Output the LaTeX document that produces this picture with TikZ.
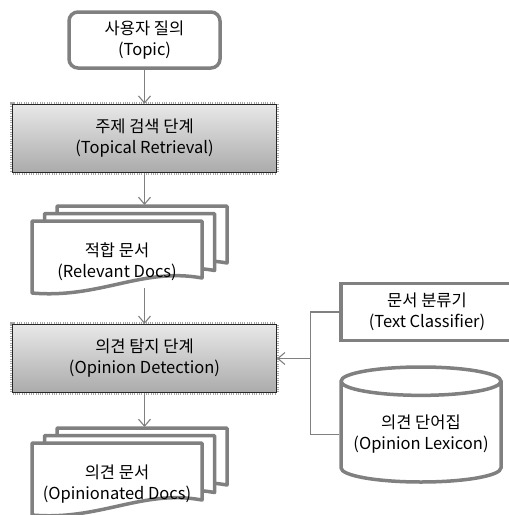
\documentclass[tikz,border=0pt]{standalone}
\usepackage{fontspec}
\setmainfont{Noto Sans CJK KR}
\usepackage{tikz}
\usetikzlibrary{positioning,shapes.geometric,calc,arrows.meta}

\definecolor{edgegray}{RGB}{128,128,128}

\tikzset{
  base/.style={align=center, font=\fontsize{16.5}{21}\selectfont},
  query/.style={base, draw=edgegray, line width=3.5pt, rounded corners=9pt,
    fill=white, minimum width=151pt, minimum height=56pt},
  stage/.style={base, draw=black!85, line width=1.2pt, top color=black!9,
    bottom color=black!33, minimum width=264pt, minimum height=68pt,
    preaction={draw=black!35, line width=4.5pt, dash pattern=on 0.7pt off 1.6pt}},
  resource/.style={base, draw=edgegray, line width=3.5pt, fill=white,
    minimum width=172pt, minimum height=57pt},
  store/.style={base, cylinder, shape border rotate=90, aspect=0.2,
    draw=edgegray, line width=3.5pt, fill=white,
    minimum width=160pt, minimum height=115pt},
  page/.style={draw=edgegray, line width=3.5pt, fill=white, line join=round},
  link/.style={draw=edgegray, line width=1.1pt},
}

% three stacked pages behind a text node
\newcommand{\docstack}[1]{%
  \foreach \k in {2,1,0}
    \draw[page, shift={($(#1)+(-85+12.5*\k,-41-7.5*\k)$)}]
      (0,0) -- (170,0) -- (170,57) .. controls (110,46) and (68,78) .. (0,72) -- cycle;
}

\begin{document}
\begin{tikzpicture}[x=1pt, y=-1pt, >={Straight Barb[length=7pt,width=12pt]}]
    \useasboundingbox (0,0) rectangle (509,515);
    \clip (0,0) rectangle (509,515);

    % Nodes
    \node[query] (topic) at (144.5,40) {사용자 질의\\(Topic)};
    \node[stage] (retrieval) [below=34pt of topic] {주제 검색 단계\\(Topical Retrieval)};

    \coordinate (relevant-pos) at (117,262);
    \docstack{relevant-pos}
    \node[base] (relevant) at (relevant-pos) {적합 문서\\(Relevant Docs)};

    \node[stage] (opinion) at (144.5,358.5) {의견 탐지 단계\\(Opinion Detection)};

    \coordinate (opdocs-pos) at (117,484);
    \docstack{opdocs-pos}
    \node[base] (opdocs) at (opdocs-pos) {의견 문서\\(Opinionated Docs)};

    \node[resource] (classifier) at (427,312) {문서 분류기\\(Text Classifier)};
    \node[store, anchor=shape center] (lexicon) at (421,424.5) {의견 단어집\\(Opinion Lexicon)};

    \coordinate (relevant-in) at (144.5,205);
    \coordinate (relevant-out) at (144.5,288);
    \coordinate (opdocs-in) at (144.5,427);
    \coordinate (junction) at ([xshift=33pt]opinion.east);

    % Arrows
    \draw[link,->] (topic) -- (retrieval);
    \draw[link,->] (retrieval) -- (relevant-in);
    \draw[link,->] (relevant-out) -- (opinion);
    \draw[link,->] (opinion) -- (opdocs-in);
    \draw[link] (classifier.west) -| (junction) |- (lexicon.west);
    \draw[link,->] (junction) -- (opinion.east);
\end{tikzpicture}
\end{document}
